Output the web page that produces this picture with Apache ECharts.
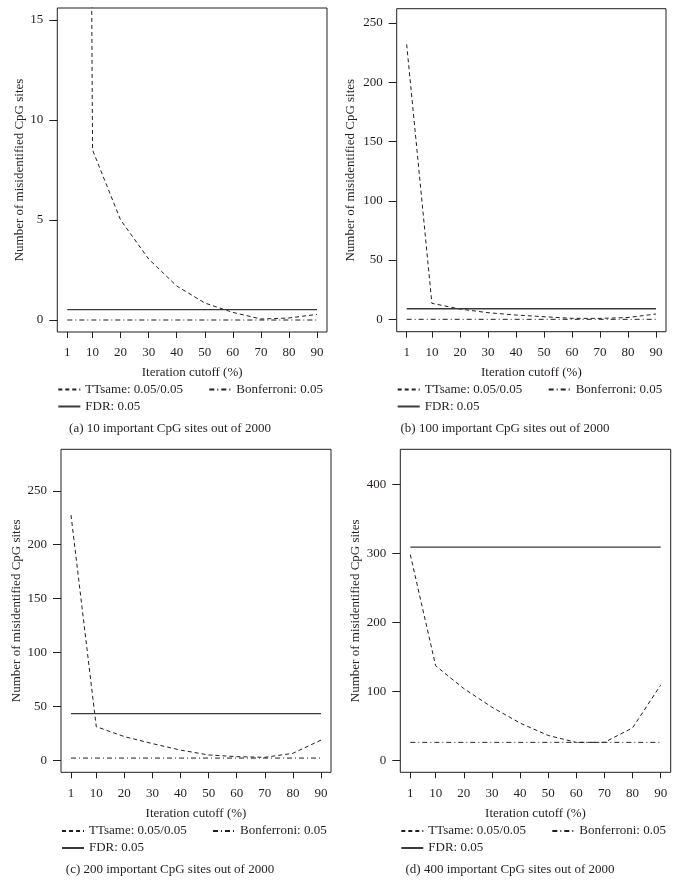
<!DOCTYPE html>
<html>
<head>
<meta charset="utf-8">
<script src="https://cdn.jsdelivr.net/npm/echarts@6/dist/echarts.min.js"></script>
<style>
html,body{margin:0;padding:0;background:#fff;}
#chart{width:679px;height:885px;}
</style>
</head>
<body>
<div id="chart"></div>
<script>
// ---- data ----
const cutoffs = [1, 10, 20, 30, 40, 50, 60, 70, 80, 90];
const xTickLabels = [1, 10, 20, 30, 40, 50, 60, 70, 80, 90];

const ttsameA = [230, 8.5, 5.0, 3.05, 1.7, 0.85, 0.38, 0.05, 0.1, 0.28];
const bonfA   = [0, 0, 0, 0, 0, 0, 0, 0, 0, 0];
const fdrA    = [0.52, 0.52, 0.52, 0.52, 0.52, 0.52, 0.52, 0.52, 0.52, 0.52];

const ttsameB = [232, 13.5, 8.7, 5.6, 3.6, 2.2, 0.8, 0.8, 1.5, 4.5];
const bonfB   = [0, 0, 0, 0, 0, 0, 0, 0, 0, 0];
const fdrB    = [8.9, 8.9, 8.9, 8.9, 8.9, 8.9, 8.9, 8.9, 8.9, 8.9];

const ttsameC = [227.5, 31.2, 22, 15.5, 9.5, 5, 3.4, 2.8, 6.5, 18.8];
const bonfC   = [2.1, 2.1, 2.1, 2.1, 2.1, 2.1, 2.1, 2.1, 2.1, 2.1];
const fdrC    = [43.4, 43.4, 43.4, 43.4, 43.4, 43.4, 43.4, 43.4, 43.4, 43.4];

const ttsameD = [298, 137, 104, 77, 54, 36, 26, 26, 47, 109];
const bonfD   = [26, 26, 26, 26, 26, 26, 26, 26, 26, 26];
const fdrD    = [309, 309, 309, 309, 309, 309, 309, 309, 309, 309];

const yTicksA = [0, 5, 10, 15];
const yTicksB = [0, 50, 100, 150, 200, 250];
const yTicksC = [0, 50, 100, 150, 200, 250];
const yTicksD = [0, 100, 200, 300, 400];

const nameTT = 'TTsame: 0.05/0.05';
const nameBF = 'Bonferroni: 0.05';
const nameFDR = 'FDR: 0.05';
const xName = 'Iteration cutoff (%)';
const yName = 'Number of misidentified CpG sites';
const captions = [
  '(a) 10 important CpG sites out of 2000',
  '(b) 100 important CpG sites out of 2000',
  '(c) 200 important CpG sites out of 2000',
  '(d) 400 important CpG sites out of 2000'
];

// ---- layout ----
const FONT = 'Liberation Serif';
const INK = '#231f20';
const panels = [
  {left: 57.3, top: 8, w: 269.7, h: 324, ymin: -0.6, ymax: 15.6, yt: yTicksA, tt: ttsameA, bf: bonfA, fdr: fdrA, nameGap: 31, rows: [390, 407], cap: [170, 428.5]},
  {left: 396.7, top: 8.7, w: 269.3, h: 323, ymin: -10.45, ymax: 262.1, yt: yTicksB, tt: ttsameB, bf: bonfB, fdr: fdrB, nameGap: 39.4, rows: [390, 407], cap: [505, 428.5]},
  {left: 61, top: 449.3, w: 270, h: 323, ymin: -11.1, ymax: 288.5, yt: yTicksC, tt: ttsameC, bf: bonfC, fdr: fdrC, nameGap: 38, rows: [831.5, 848.5], cap: [170, 870]},
  {left: 400.3, top: 449.3, w: 270.4, h: 323, ymin: -17.4, ymax: 450.7, yt: yTicksD, tt: ttsameD, bf: bonfD, fdr: fdrD, nameGap: 38.3, rows: [831.5, 848.5], cap: [510, 870]}
];

const pairs = (ys) => cutoffs.map((x, i) => [x, ys[i]]);
const txt = {fontFamily: FONT, fontSize: 13, color: INK};

const grid = [], xAxis = [], yAxis = [], series = [], legend = [], graphic = [];
panels.forEach((p, i) => {
  grid.push({left: p.left, top: p.top, width: p.w, height: p.h, show: true,
    borderColor: INK, borderWidth: 1, backgroundColor: 'transparent', outerBoundsMode: 'none'});
  xAxis.push({type: 'value', gridIndex: i, min: -2.56, max: 93.56,
    axisLine: {show: false, onZero: false},
    axisTick: {show: true, inside: false, length: 6, lineStyle: {color: INK}, customValues: xTickLabels},
    axisLabel: Object.assign({margin: 14.5, customValues: xTickLabels}, txt),
    splitLine: {show: false},
    name: xName, nameLocation: 'middle', nameGap: 34.5, nameTextStyle: txt});
  yAxis.push({type: 'value', gridIndex: i, min: p.ymin, max: p.ymax,
    axisLine: {show: false, onZero: false},
    axisTick: {show: true, inside: false, length: 8, lineStyle: {color: INK}, customValues: p.yt},
    axisLabel: Object.assign({margin: 14, customValues: p.yt}, txt),
    splitLine: {show: false},
    name: yName, nameLocation: 'middle', nameGap: p.nameGap, nameTextStyle: txt});
  series.push({type: 'line', name: nameTT, xAxisIndex: i, yAxisIndex: i, data: pairs(p.tt),
    symbol: 'none', silent: true, clip: true,
    lineStyle: {color: INK, width: 1, type: [4, 3]}});
  series.push({type: 'line', name: nameBF, xAxisIndex: i, yAxisIndex: i, data: pairs(p.bf),
    symbol: 'none', silent: true, clip: true,
    lineStyle: {color: INK, width: 1, type: [5, 3, 1, 3]}});
  series.push({type: 'line', name: nameFDR, xAxisIndex: i, yAxisIndex: i, data: pairs(p.fdr),
    symbol: 'none', silent: true, clip: true,
    lineStyle: {color: '#3a3a3a', width: 1.3, type: 'solid'}});
  const lg = (name, left, top) => ({data: [name], left: left, top: top, padding: 0,
    itemWidth: 22, itemHeight: 14, selectedMode: false, orient: 'horizontal',
    itemStyle: {color: 'transparent', borderColor: 'transparent', borderWidth: 0},
    textStyle: txt});
  legend.push(lg(nameTT, p.left, p.rows[0] - 7));
  legend.push(lg(nameBF, p.left + 151, p.rows[0] - 7));
  legend.push(lg(nameFDR, p.left, p.rows[1] - 7));
  graphic.push({type: 'text', x: p.cap[0], y: p.cap[1], silent: true,
    style: {text: captions[i], fill: INK, font: '13px "' + FONT + '"', align: 'center', verticalAlign: 'middle'}});
});

const chart = echarts.init(document.getElementById('chart'), null, {renderer: 'canvas'});
chart.setOption({
  animation: false,
  backgroundColor: '#fff',
  grid, xAxis, yAxis, series, legend, graphic
});
</script>
</body>
</html>
